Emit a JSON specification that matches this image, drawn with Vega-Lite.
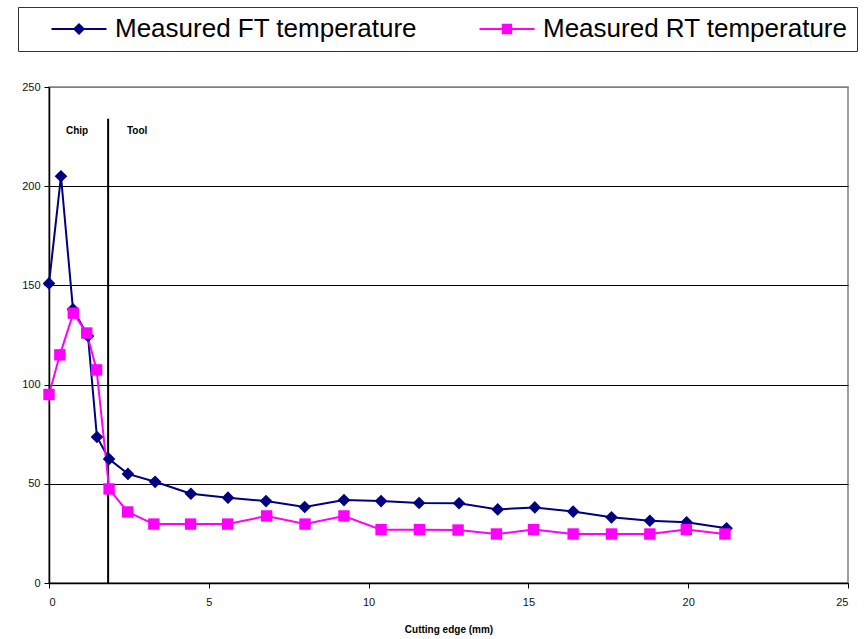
{
  "$schema": "https://vega.github.io/schema/vega-lite/v6.json",
  "autosize": "none",
  "width": 799,
  "height": 496,
  "padding": {"left": 49, "top": 87, "right": 20, "bottom": 56},
  "background": "white",
  "config": {
    "font": "Liberation Sans",
    "view": {"stroke": "#808080", "strokeWidth": 1.5},
    "axis": {"labelFont": "Liberation Sans", "labelFontSize": 11, "labelColor": "#111", "tickColor": "#000", "domainColor": "#000", "domainWidth": 1.5, "tickSize": 5}
  },
  "datasets": {
    "temps": [
      {"x": 0, "t": 151, "series": "Measured FT temperature"},
      {"x": 0.375, "t": 205, "series": "Measured FT temperature"},
      {"x": 0.75, "t": 138, "series": "Measured FT temperature"},
      {"x": 1.22, "t": 124.5, "series": "Measured FT temperature"},
      {"x": 1.5, "t": 73.6, "series": "Measured FT temperature"},
      {"x": 1.88, "t": 62.5, "series": "Measured FT temperature"},
      {"x": 2.47, "t": 55, "series": "Measured FT temperature"},
      {"x": 3.32, "t": 51, "series": "Measured FT temperature"},
      {"x": 4.44, "t": 45, "series": "Measured FT temperature"},
      {"x": 5.6, "t": 43, "series": "Measured FT temperature"},
      {"x": 6.79, "t": 41.3, "series": "Measured FT temperature"},
      {"x": 8.0, "t": 38.3, "series": "Measured FT temperature"},
      {"x": 9.23, "t": 41.8, "series": "Measured FT temperature"},
      {"x": 10.39, "t": 41.3, "series": "Measured FT temperature"},
      {"x": 11.58, "t": 40.3, "series": "Measured FT temperature"},
      {"x": 12.83, "t": 40.2, "series": "Measured FT temperature"},
      {"x": 14.04, "t": 37.1, "series": "Measured FT temperature"},
      {"x": 15.2, "t": 38.1, "series": "Measured FT temperature"},
      {"x": 16.4, "t": 36, "series": "Measured FT temperature"},
      {"x": 17.6, "t": 33.1, "series": "Measured FT temperature"},
      {"x": 18.8, "t": 31.4, "series": "Measured FT temperature"},
      {"x": 19.95, "t": 30.6, "series": "Measured FT temperature"},
      {"x": 21.2, "t": 27.6, "series": "Measured FT temperature"},
      {"x": 0, "t": 95, "series": "Measured RT temperature"},
      {"x": 0.34, "t": 115, "series": "Measured RT temperature"},
      {"x": 0.76, "t": 136, "series": "Measured RT temperature"},
      {"x": 1.18, "t": 126, "series": "Measured RT temperature"},
      {"x": 1.49, "t": 107.4, "series": "Measured RT temperature"},
      {"x": 1.88, "t": 47.4, "series": "Measured RT temperature"},
      {"x": 2.46, "t": 35.8, "series": "Measured RT temperature"},
      {"x": 3.28, "t": 29.7, "series": "Measured RT temperature"},
      {"x": 4.43, "t": 29.7, "series": "Measured RT temperature"},
      {"x": 5.59, "t": 29.7, "series": "Measured RT temperature"},
      {"x": 6.81, "t": 33.8, "series": "Measured RT temperature"},
      {"x": 8.01, "t": 29.7, "series": "Measured RT temperature"},
      {"x": 9.23, "t": 33.8, "series": "Measured RT temperature"},
      {"x": 10.39, "t": 26.9, "series": "Measured RT temperature"},
      {"x": 11.59, "t": 26.9, "series": "Measured RT temperature"},
      {"x": 12.8, "t": 26.7, "series": "Measured RT temperature"},
      {"x": 14.0, "t": 24.7, "series": "Measured RT temperature"},
      {"x": 15.16, "t": 26.9, "series": "Measured RT temperature"},
      {"x": 16.4, "t": 24.7, "series": "Measured RT temperature"},
      {"x": 17.6, "t": 24.7, "series": "Measured RT temperature"},
      {"x": 18.8, "t": 24.7, "series": "Measured RT temperature"},
      {"x": 19.94, "t": 26.9, "series": "Measured RT temperature"},
      {"x": 21.15, "t": 24.7, "series": "Measured RT temperature"}
    ],
    "divider": [{"x": 1.85, "y": 0, "y2": 234}],
    "zones": [
      {"label": "Chip", "x": 0.53, "y": 228},
      {"label": "Tool", "x": 2.44, "y": 228}
    ]
  },
  "layer": [
    {
      "data": {"name": "divider"},
      "mark": {"type": "rule", "color": "#000", "strokeWidth": 2},
      "encoding": {
        "x": {"field": "x", "type": "quantitative", "scale": {"domain": [0, 25], "nice": false},
          "axis": {"values": [0, 5, 10, 15, 20, 25], "grid": false, "title": "Cutting edge (mm)", "titleFont": "Liberation Sans", "titleFontSize": 10, "titleFontWeight": "bold", "titleColor": "#000", "titlePadding": 17, "labelPadding": 8}},
        "y": {"field": "y", "type": "quantitative", "scale": {"domain": [0, 250], "nice": false},
          "axis": {"values": [0, 50, 100, 150, 200, 250], "title": null, "grid": true,
            "gridColor": {"condition": {"test": "datum.value === 250", "value": "#808080"}, "value": "#000"},
            "gridWidth": 1, "labelPadding": 4}},
        "y2": {"field": "y2"}
      }
    },
    {
      "data": {"name": "zones"},
      "mark": {"type": "text", "align": "left", "baseline": "middle", "font": "Liberation Sans", "fontSize": 10, "fontWeight": "bold", "color": "#000"},
      "encoding": {
        "x": {"field": "x", "type": "quantitative"},
        "y": {"field": "y", "type": "quantitative"},
        "text": {"field": "label"}
      }
    },
    {
      "data": {"name": "temps"},
      "transform": [{"filter": "datum.series === 'Measured FT temperature'"}],
      "mark": {"type": "line", "strokeWidth": 2, "color": "#000080"},
      "encoding": {
        "x": {"field": "x", "type": "quantitative"},
        "y": {"field": "t", "type": "quantitative"}
      }
    },
    {
      "data": {"name": "temps"},
      "transform": [{"filter": "datum.series === 'Measured RT temperature'"}],
      "mark": {"type": "line", "strokeWidth": 2, "color": "#ff00ff"},
      "encoding": {
        "x": {"field": "x", "type": "quantitative"},
        "y": {"field": "t", "type": "quantitative"}
      }
    },
    {
      "data": {"name": "temps"},
      "transform": [{"filter": "datum.series === 'Measured FT temperature'"}],
      "mark": {"type": "point", "filled": true, "opacity": 1, "shape": "diamond", "size": 160, "color": "#000080"},
      "encoding": {
        "x": {"field": "x", "type": "quantitative"},
        "y": {"field": "t", "type": "quantitative"}
      }
    },
    {
      "data": {"name": "temps"},
      "transform": [{"filter": "datum.series === 'Measured RT temperature'"}],
      "mark": {"type": "point", "filled": true, "opacity": 1, "shape": "square", "size": 130, "color": "#ff00ff"},
      "encoding": {
        "x": {"field": "x", "type": "quantitative"},
        "y": {"field": "t", "type": "quantitative"}
      }
    },
    {
      "data": {"name": "temps"},
      "mark": {"type": "point", "filled": true, "fillOpacity": 0, "strokeOpacity": 0},
      "encoding": {
        "x": {"field": "x", "type": "quantitative"},
        "y": {"field": "t", "type": "quantitative"},
        "color": {"field": "series", "type": "nominal",
          "scale": {"domain": ["Measured FT temperature", "Measured RT temperature"], "range": ["#000080", "#ff00ff"]},
          "legend": {
            "orient": "none", "legendX": -31, "legendY": -80, "direction": "horizontal", "title": null,
            "strokeColor": "#333", "padding": 9, "fillColor": "white",
            "labelFont": "Liberation Sans", "labelFontSize": 26, "labelColor": "#000", "labelLimit": 500,
            "symbolSize": 121, "symbolOpacity": 1, "symbolStrokeWidth": 0,
            "symbolOffset": 39, "labelOffset": 23, "columnPadding": 37
          }},
        "shape": {"field": "series", "type": "nominal",
          "scale": {"domain": ["Measured FT temperature", "Measured RT temperature"],
            "range": ["M-5,-0.18H5V0.18H-5Z M0,-1.1L1.1,0L0,1.1L-1.1,0Z", "M-5,-0.18H5V0.18H-5Z M-0.95,-0.95H0.95V0.95H-0.95Z"]}}
      }
    }
  ]
}
